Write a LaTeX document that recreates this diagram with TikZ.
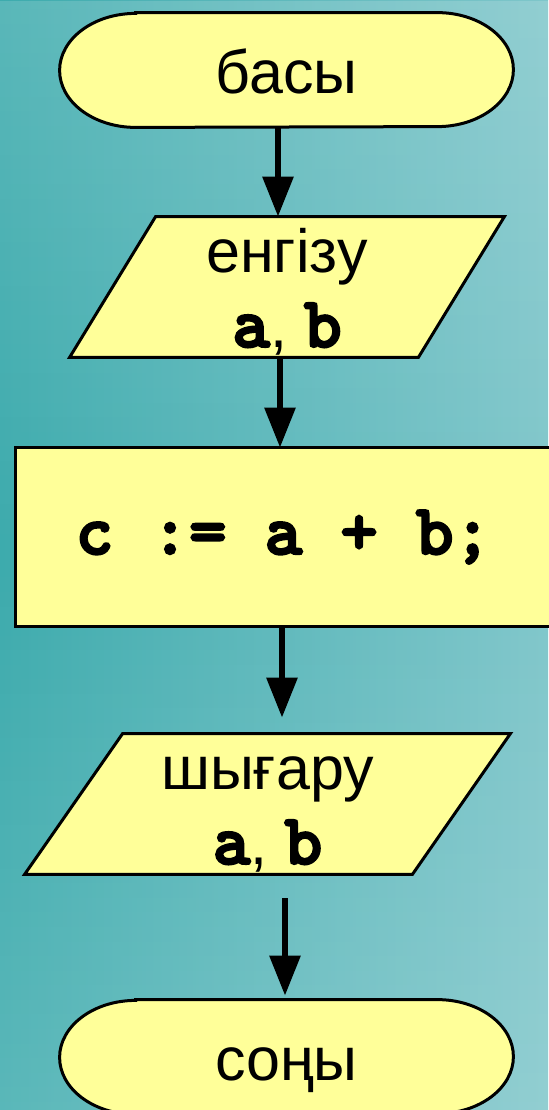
\documentclass[tikz,border=0pt]{standalone}
\usepackage{fontspec}
\setmainfont{Liberation Sans}
\newfontfamily\codefont{lmmonolt10-bold}[Extension=.otf, FakeBold=3]
\usetikzlibrary{arrows.meta,backgrounds,fadings}

\definecolor{boxyellow}{HTML}{FFFF99}
\definecolor{bgleft}{HTML}{3DABAD}
\definecolor{bgright}{HTML}{7FC6CA}

% code text in a bold typewriter face
\newcommand{\cd}[1]{{\codefont\fontsize{36}{37.5}\selectfont #1}}

\tikzfading[name=fade ends, top color=transparent!85, bottom color=transparent!85,
  middle color=transparent!100]

\begin{document}
\begin{tikzpicture}[x=0.5pt, y=-0.5pt,
  flowline/.style={line width=1.5pt},
  flowarrow/.style={line width=3pt, -{Triangle[length=20pt,width=15pt]}},
  termbox/.style={minimum width=226.5pt, minimum height=57pt, inner sep=0pt,
    text height=23pt, text depth=0pt, font=\fontsize{30.5}{37.5}\selectfont},
  iobox/.style={minimum height=70pt, inner sep=0pt, align=center,
    text height=65pt, text depth=5pt, font=\fontsize{30.5}{37.5}\selectfont},
  procbox/.style={minimum width=267.5pt, minimum height=89pt, inner sep=0pt}]
  \useasboundingbox (0,0) rectangle (548,1110);

  % blocks
  \node[termbox] (start) at (286.5,70) {басы};
  \node[iobox, minimum width=217pt] (in1) at (287,287) {енгізу\\\cd{a}, \cd{b}};
  \node[procbox] (calc) at (283.5,537) {\cd{c := a + b;}};
  \node[iobox, minimum width=242.5pt] (out1) at (267.5,804) {шығару\\\cd{a}, \cd{b}};
  \node[termbox] (stop) at (286.5,1057) {соңы};

  % background and block outlines
  \begin{scope}[on background layer]
    \shade[left color=bgleft, right color=bgright] (0,0) rectangle (548,1110);
    \fill[white, path fading=fade ends] (0,0) rectangle (548,1110);
    \foreach \n in {start,stop}
      \draw[flowline, fill=boxyellow] ([xshift=38pt]\n.north west) -- ([xshift=-38pt]\n.north east)
        arc[start angle=90, end angle=-90, x radius=38pt, y radius=28.5pt]
        -- ([xshift=38pt]\n.south west)
        arc[start angle=270, end angle=90, x radius=38pt, y radius=28.5pt] -- cycle;
    \draw[flowline, fill=boxyellow] ([xshift=43pt]in1.north west) -- (in1.north east)
      -- ([xshift=-43pt]in1.south east) -- (in1.south west) -- cycle;
    \draw[flowline, fill=boxyellow] (calc.north west) rectangle (calc.south east);
    \draw[flowline, fill=boxyellow] ([xshift=49pt]out1.north west) -- (out1.north east)
      -- ([xshift=-49pt]out1.south east) -- (out1.south west) -- cycle;
  \end{scope}

  % arrows
  \draw[flowarrow] ([xshift=-4.25pt]start.south) -- ([xshift=-4.5pt]in1.north);
  \draw[flowarrow] ([xshift=-3.5pt]in1.south) -- ([xshift=-1.75pt]calc.north);
  \draw[flowarrow, shorten >=8pt] ([xshift=-0.75pt]calc.south) -- ([xshift=7.25pt]out1.north);
  \draw[flowarrow, shorten <=12pt, shorten >=2pt] ([xshift=8.75pt]out1.south)
    -- ([xshift=-0.75pt]stop.north);
\end{tikzpicture}
\end{document}
